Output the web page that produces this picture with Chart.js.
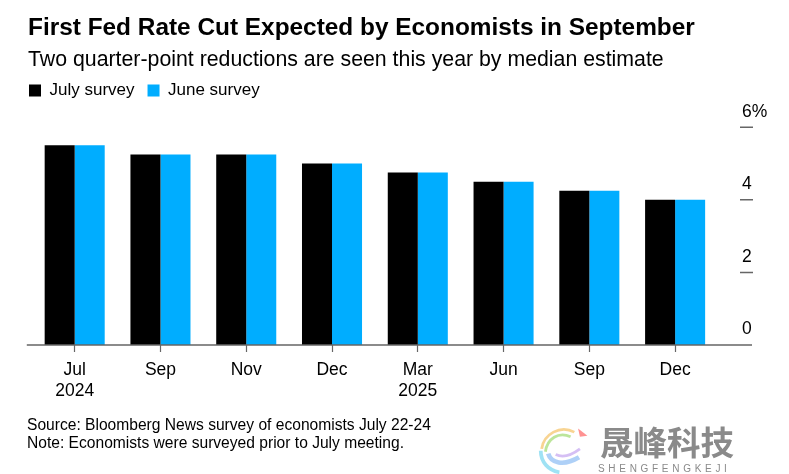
<!DOCTYPE html>
<html><head><meta charset="utf-8">
<script src="https://cdn.jsdelivr.net/npm/chart.js@4"></script>
<style>
html,body{margin:0;padding:0;background:#fff;width:789px;height:474px;overflow:hidden}
.t{position:absolute;white-space:nowrap;font-family:"Liberation Sans",Arial,sans-serif;color:#000}
#c{position:absolute;left:0;top:0}
</style></head><body>
<canvas id="c" width="789" height="474"></canvas>
<div class="t" style="left:28px;top:12px;font-size:24.4px;font-weight:bold;line-height:30px">First Fed Rate Cut Expected by Economists in September</div>
<div class="t" style="left:28px;top:46px;font-size:21.3px;line-height:26px">Two quarter-point reductions are seen this year by median estimate</div>
<div class="t" style="left:27px;top:415.5px;font-size:15.6px;line-height:18px">Source: Bloomberg News survey of economists July 22-24<br>Note: Economists were surveyed prior to July meeting.</div>
<svg style="position:absolute;left:537px;top:422px" width="56" height="52" viewBox="0 0 60 54" fill="none">
<path d="M40 10C25 2 7 12 5 28" stroke="#f6c56d" stroke-width="3" opacity=".75"/>
<path d="M36 15C23 9 11 17 9 31" stroke="#a5dc7a" stroke-width="3" opacity=".75"/>
<path d="M4 30C4 42 12 51 24 53" stroke="#7fd8f0" stroke-width="4" opacity=".75"/>
<path d="M12 33C15 43 28 47 45 37" stroke="#8cbcf4" stroke-width="5" opacity=".7"/>
<path d="M20 34C28 38 38 34 46 28" stroke="#c3a4f0" stroke-width="3" opacity=".7"/>
<path d="M44 6L54 14L46 15Z" fill="#f77" opacity=".8"/>
</svg>
<div class="t" style="left:600px;top:421px;font-family:'Noto Sans CJK SC';font-weight:700;font-size:33.5px;line-height:40px;color:#8a8a8a">晟峰科技</div>
<div class="t" style="left:598px;top:462px;font-size:10px;line-height:13px;letter-spacing:3.7px;color:#8a8a8a">SHENGFENGKEJI</div>
<script>
const categories=[['Jul','2024'],'Sep','Nov','Dec',['Mar','2025'],'Jun','Sep','Dec'];
const julySurvey=[5.5,5.25,5.25,5,4.75,4.5,4.25,4];
const juneSurvey=[5.5,5.25,5.25,5,4.75,4.5,4.25,4];
const yTicks=[0,2,4,6];
const font={family:'"Liberation Sans",Arial,sans-serif',size:17};
const axisMarks={id:'axisMarks',
  beforeDraw(chart){chart.legend.left=16;chart.legend.top=69;},
  afterDatasetsDraw(chart){
    const {x,y}=chart.scales,ctx=chart.ctx,b=y.getPixelForValue(0);
    ctx.save();ctx.strokeStyle='#666';ctx.lineWidth=1.5;ctx.beginPath();
    ctx.moveTo(x.left-5,b);ctx.lineTo(x.right+34,b);
    yTicks.slice(1).forEach(v=>{const p=y.getPixelForValue(v);
      ctx.moveTo(x.right+22,p);ctx.lineTo(x.right+35,p);});
    ctx.stroke();ctx.restore();
  }};
new Chart(document.getElementById('c'),{
  type:'bar',
  data:{labels:categories,datasets:[
    {label:'July survey',data:julySurvey,backgroundColor:'#000'},
    {label:'June survey',data:juneSurvey,backgroundColor:'#00adff'}]},
  plugins:[axisMarks],
  options:{
    responsive:false,animation:false,devicePixelRatio:1,
    layout:{padding:{left:31.8,top:87.2,right:0,bottom:0}},
    datasets:{bar:{barPercentage:1,categoryPercentage:.7}},
    plugins:{
      tooltip:{enabled:false},
      legend:{position:'top',align:'start',labels:{boxWidth:12,boxHeight:12,padding:13,color:'#000',font}}
    },
    scales:{
      x:{afterFit(s){s.height=129;},border:{display:false},
        grid:{offset:false,drawOnChartArea:false,tickColor:'#666',tickLength:7,tickWidth:1.2},
        ticks:{color:'#000',font:{...font,size:17.5,lineHeight:1.2},padding:8,maxRotation:0,autoSkip:false}},
      y:{position:'right',min:0,max:6,afterFit(s){s.width=71;},
        afterBuildTicks(s){s.ticks=yTicks.map(v=>({value:v}));},
        border:{display:false},grid:{display:false,drawTicks:false},
        ticks:{color:'#000',font:{...font,size:17.5},padding:24,labelOffset:-15.5,callback:v=>v===6?v+'%':v}}
    }
  }
});
</script>
</body></html>
